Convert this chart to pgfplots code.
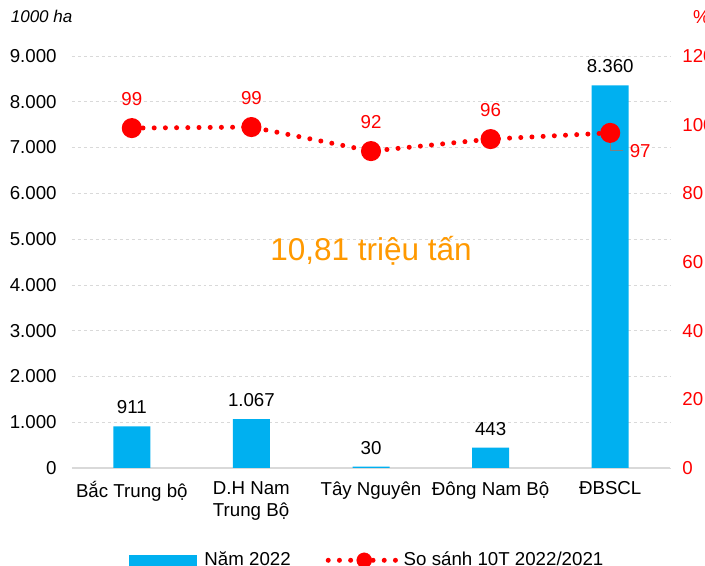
\documentclass[border=0pt]{standalone}
\usepackage{pgfplots}
\pgfplotsset{compat=1.18}
\usepackage{fontspec}
\setmainfont{Liberation Sans}

\definecolor{barblue}{HTML}{00B0F0}
\definecolor{gridgray}{HTML}{D9D9D9}
\definecolor{axred}{HTML}{FF0000}
\definecolor{txtorange}{HTML}{FF9900}

\begin{document}
\fontsize{18.7bp}{22bp}\selectfont
\begin{tikzpicture}[x=1bp,y=1bp]
\path[use as bounding box] (-72,-98) rectangle (633,468);

% bars: Nam 2022 (1000 ha)
\begin{axis}[
    at={(0,0)}, anchor=south west,
    scale only axis,
    width=598bp, height=412bp,
    xmin=-0.5, xmax=4.5,
    ymin=0, ymax=9000,
    xtick={0,1,2,3,4},
    xticklabels={Bắc Trung bộ, {D.H Nam\\Trung Bộ}, Tây Nguyên, Đông Nam Bộ, ĐBSCL},
    xticklabel style={align=left, anchor=north, yshift=-3bp},
    ytick={0,1000,...,9000},
    /pgf/number format/.cd, 1000 sep={.}, assume math mode=true,
    /pgfplots/.cd,
    yticklabel style={xshift=-9bp},
    axis line style={draw=none},
    axis x line*=bottom,
    x axis line style={draw=gridgray, line width=1.2bp},
    axis y line*=left,
    tick style={draw=none},
    ymajorgrids,
    grid style={gridgray, dashed, line width=0.6bp},
    ybar, bar width=37bp,
    nodes near coords,
    every node near coord/.append style={black, yshift=6bp},
    clip=false,
    legend style={at={(0.494,-0.224)}, anchor=center, draw=none, fill=none,
        legend columns=2,
        /tikz/every odd column/.append style={column sep=5bp},
        /tikz/every even column/.append style={column sep=33bp}},
]
\addplot[fill=barblue, draw=none, area legend,
    legend image code/.code={\fill[barblue] (0bp,-6bp) rectangle (68bp,5bp);}]
coordinates {(0,911) (1,1067) (2,30) (3,443) (4,8360)};
\addlegendentry{Năm 2022}
\addlegendimage{legend image code/.code={
    \draw[axred, line width=5bp, line cap=round, dash pattern=on 0pt off 11.2bp] (0bp,0) -- (71bp,0);
    \fill[axred] (36bp,0) circle (7.5bp);}}
\addlegendentry{\hspace{-5bp}So sánh 10T 2022/2021}
\node[txtorange, font=\fontsize{31.5bp}{34bp}\selectfont] at (axis cs:2,4750) {10,81 triệu tấn};
\node[font=\fontsize{17bp}{20bp}\selectfont\itshape, anchor=west] at (rel axis cs:-0.113,1.095) {1000 ha};
\end{axis}

% line: So sanh (%)
\begin{axis}[
    at={(0,0)}, anchor=south west,
    scale only axis,
    width=598bp, height=412bp,
    xmin=-0.5, xmax=4.5,
    ymin=0, ymax=120,
    ytick={0,20,...,120},
    axis y line*=right,
    axis x line=none,
    axis line style={draw=none},
    tick style={draw=none},
    /pgf/number format/assume math mode=true,
    yticklabel style={axred, xshift=6bp},
    clip=false,
]
\addplot[axred, line width=5bp, line cap=round, dash pattern=on 0pt off 11.2bp,
    mark=*, mark size=7.5bp, mark options={solid, fill=axred, draw=none},
    nodes near coords, point meta=explicit symbolic,
    every node near coord/.append style={axred, yshift=14bp}]
coordinates {(0,99.0)[99] (1,99.3)[99] (2,92.3)[92] (3,95.8)[96] (4,97.6)[] };
\draw[gray, line width=1.2bp] (axis cs:4,97.6) |- (axis cs:4.11,92.4);
\node[axred, anchor=west] at (axis cs:4.11,92.4) {97};
\node[axred, anchor=west] at (rel axis cs:1.028,1.095) {\%};
\end{axis}
\end{tikzpicture}
\end{document}
